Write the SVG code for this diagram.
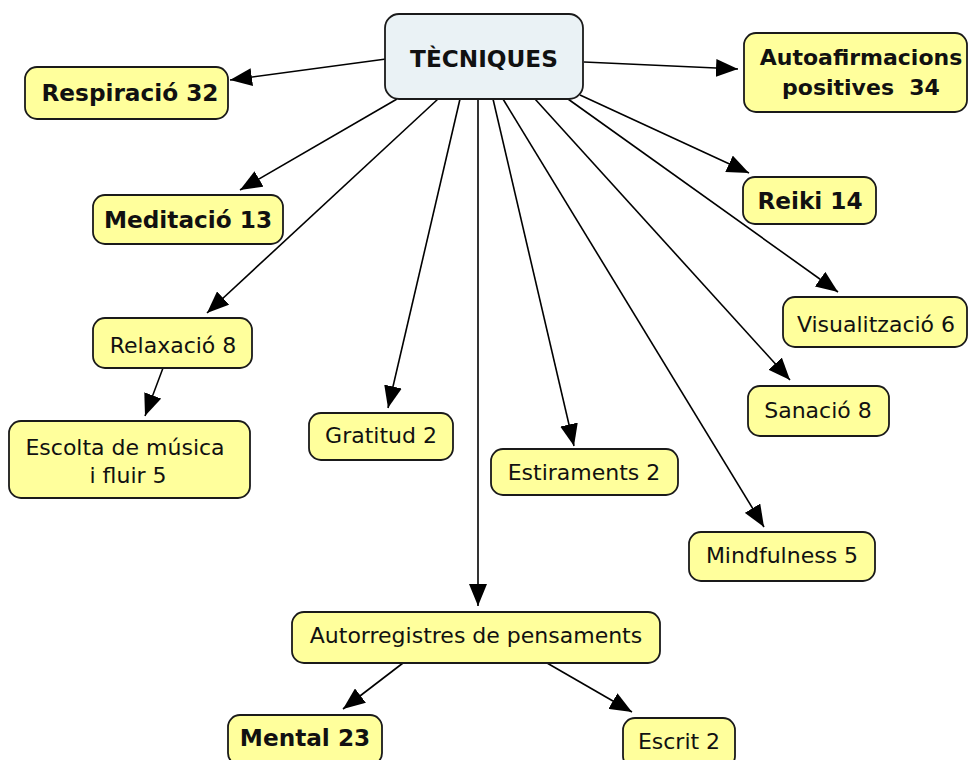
<svg xmlns="http://www.w3.org/2000/svg" width="969" height="760" viewBox="0 0 969 760">
<defs>
<marker id="ah" viewBox="0 0 22 18" refX="22" refY="9" markerWidth="22" markerHeight="18" markerUnits="userSpaceOnUse" orient="auto">
<path d="M0,0 L22,9 L0,18 z" fill="#000"/>
</marker>
<style>
.n rect{fill:#ffff9c;stroke:#1a1a1a;stroke-width:1.8}
.c rect{fill:#eaf2f5;stroke:#1a1a1a;stroke-width:1.8}
text{font-family:"DejaVu Sans",Verdana,sans-serif;fill:#111;text-anchor:middle}
.r{font-size:22px}
.b{font-size:23.2px;font-weight:bold}
.bs{font-size:22px;font-weight:bold}
#edges line{stroke:#000;stroke-width:1.6;marker-end:url(#ah)}
</style>
</defs>
<rect width="969" height="760" fill="#fff"/>
<g id="edges">
<line x1="386" y1="59" x2="230" y2="80"/>
<line x1="584" y1="62" x2="738" y2="69"/>
<line x1="397" y1="99" x2="240" y2="190"/>
<line x1="438" y1="99" x2="207" y2="313"/>
<line x1="460" y1="99" x2="388" y2="408"/>
<line x1="478" y1="99" x2="478" y2="606"/>
<line x1="493" y1="99" x2="574" y2="446"/>
<line x1="503" y1="99" x2="764" y2="527"/>
<line x1="535" y1="99" x2="790" y2="380"/>
<line x1="568" y1="99" x2="838" y2="292"/>
<line x1="580" y1="95" x2="749" y2="173"/>
<line x1="163" y1="368" x2="145" y2="416"/>
<line x1="403" y1="663" x2="343" y2="709"/>
<line x1="547" y1="663" x2="632" y2="712"/>
</g>
<g id="tecniques" class="c"><rect x="385" y="14" width="198" height="85" rx="14"/><text class="b" x="484" y="67">TÈCNIQUES</text></g>
<g id="respiracio" class="n"><rect x="25" y="67" width="203" height="52" rx="12"/><text class="b" x="130" y="101">Respiració 32</text></g>
<g id="autoafirmacions" class="n"><rect x="744" y="33" width="223" height="79" rx="12"/><text class="bs" x="861" y="65">Autoafirmacions</text><text class="bs" x="861" y="95" xml:space="preserve">positives  34</text></g>
<g id="meditacio" class="n"><rect x="93" y="195" width="190" height="49" rx="12"/><text class="b" x="188" y="228">Meditació 13</text></g>
<g id="reiki" class="n"><rect x="743" y="177" width="133" height="47" rx="12"/><text class="b" x="810" y="209">Reiki 14</text></g>
<g id="relaxacio" class="n"><rect x="93" y="318" width="159" height="50" rx="12"/><text class="r" x="173" y="353">Relaxació 8</text></g>
<g id="visualitzacio" class="n"><rect x="783" y="297" width="184" height="50" rx="12"/><text class="r" x="876" y="332">Visualització 6</text></g>
<g id="escolta" class="n"><rect x="9" y="421" width="241" height="77" rx="12"/><text class="r" x="125" y="455">Escolta de música</text><text class="r" x="128" y="483">i fluir 5</text></g>
<g id="gratitud" class="n"><rect x="309" y="413" width="144" height="47" rx="12"/><text class="r" x="381" y="443">Gratitud 2</text></g>
<g id="sanacio" class="n"><rect x="748" y="386" width="141" height="50" rx="12"/><text class="r" x="818" y="418">Sanació 8</text></g>
<g id="estiraments" class="n"><rect x="491" y="449" width="187" height="46" rx="12"/><text class="r" x="584" y="480">Estiraments 2</text></g>
<g id="mindfulness" class="n"><rect x="689" y="532" width="186" height="49" rx="12"/><text class="r" x="782" y="563">Mindfulness 5</text></g>
<g id="autorregistres" class="n"><rect x="292" y="612" width="368" height="51" rx="12"/><text class="r" x="476" y="643">Autorregistres de pensaments</text></g>
<g id="mental" class="n"><rect x="228" y="715" width="154" height="50" rx="12"/><text class="b" x="305" y="746">Mental 23</text></g>
<g id="escrit" class="n"><rect x="623" y="718" width="112" height="50" rx="12"/><text class="r" x="679" y="749">Escrit 2</text></g>
</svg>
